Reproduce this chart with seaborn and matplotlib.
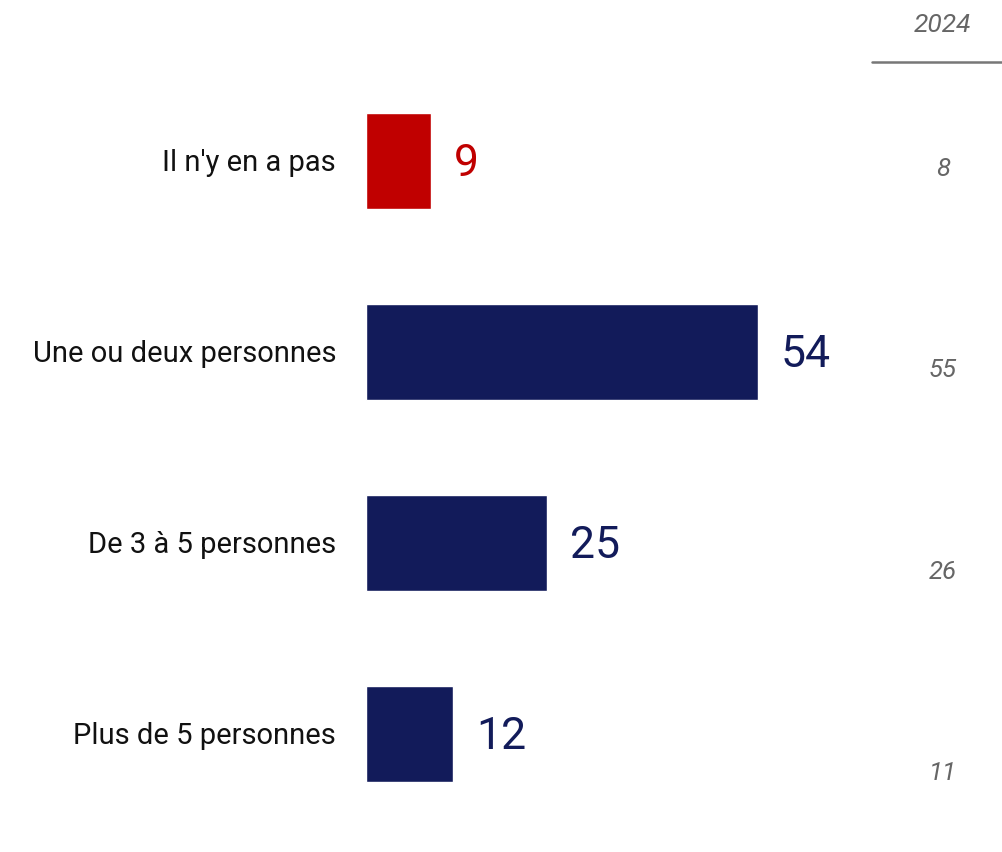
import matplotlib
matplotlib.use("Agg")
import matplotlib.pyplot as plt
import seaborn as sns
import pandas as pd

categories = ["Il n'y en a pas", "Une ou deux personnes", "De 3 à 5 personnes", "Plus de 5 personnes"]
values = [9, 54, 25, 12]
values_2024 = [8, 55, 26, 11]
bar_colors = ["#C00000", "#121B5A", "#121B5A", "#121B5A"]

df = pd.DataFrame({"cat": categories, "val": values})

sns.set_theme(style="white")
plt.rcParams["font.family"] = ["Roboto", "DejaVu Sans"]

W, H = 1002, 852
fig = plt.figure(figsize=(W / 100, H / 100), dpi=100)
ax = fig.add_axes([0, 0, 1, 1])

sns.barplot(data=df, y="cat", x="val", hue="cat", palette=bar_colors,
            legend=False, width=0.5, saturation=1, ax=ax)

# pixel mapping: bar start at x=366, 7.25 px per unit; rows at y=161 + 191*i
px_unit = 7.25
x0 = 366
ax.set_xlim(-x0 / px_unit, (W - x0) / px_unit)
ax.set_ylim((H - 161) / 191, -161 / 191)
ax.axis("off")

for i, (c, v) in enumerate(zip(categories, values)):
    ax.text(-30 / px_unit, i + 0.012, c, ha="right", va="center", fontsize=21, color="#111111")
    ax.text(v + 23 / px_unit, i + 0.015, str(v), ha="left", va="center", fontsize=32,
            color=bar_colors[i])

# 2024 column
fig.text(942 / W, 1 - 25 / H, "2024", ha="center", va="center", fontsize=19,
         style="italic", color="#666666")
fig.add_artist(plt.Line2D([872 / W, 1], [1 - 62 / H, 1 - 62 / H], color="#777777", lw=1.8))
for i, v in enumerate(values_2024):
    yp = 169 + 201.3 * i
    fig.text(943 / W, 1 - yp / H, str(v), ha="center", va="center", fontsize=18.5,
             style="italic", color="#666666")

fig.savefig("out.png", dpi=100)
